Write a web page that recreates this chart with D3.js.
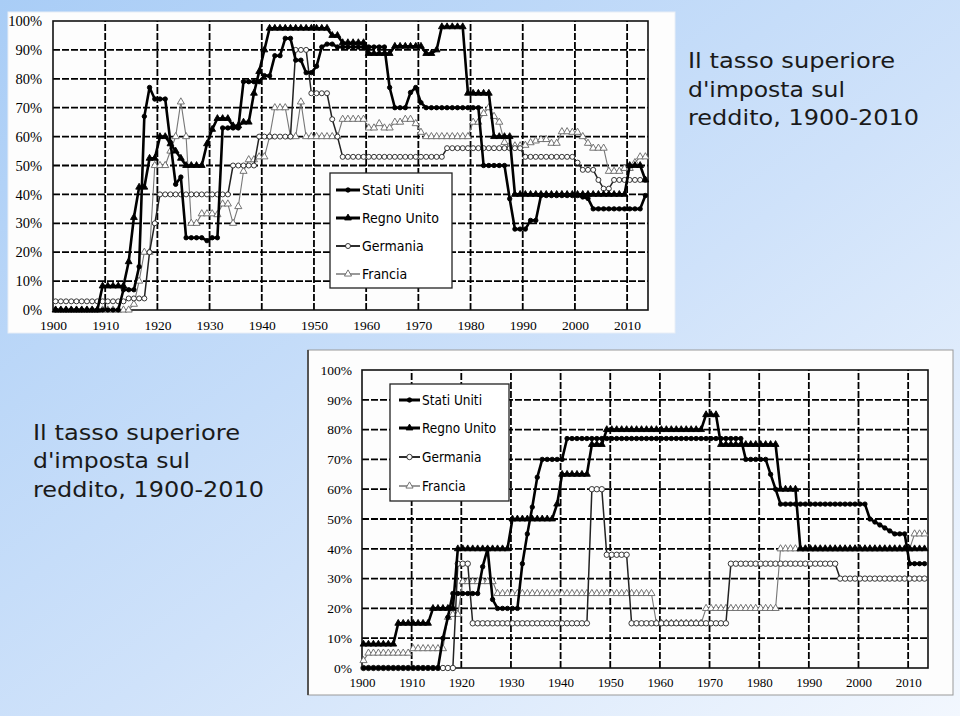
<!DOCTYPE html>
<html><head><meta charset="utf-8">
<script src="https://cdn.jsdelivr.net/npm/d3@7"></script>
<style>html,body{margin:0;padding:0;overflow:hidden;background:#fff}svg{display:block}</style>
</head><body>
<svg id="s" width="960" height="716"></svg>
<script>
// ---------- DATA ----------
const firstYear = 1900, lastYear = 2013;
const xTickYears = [1900,1910,1920,1930,1940,1950,1960,1970,1980,1990,2000,2010];
const yTickValues = [0,10,20,30,40,50,60,70,80,90,100];
const seriesNames = ["Stati Uniti","Regno Unito","Germania","Francia"];
const titleLines = ["Il tasso superiore","d'imposta sul","reddito, 1900-2010"];

// Chart 1 (top-left), yearly values 1900-2013
const usTop = [0,0,0,0,0,0,0,0,0,0, 0,0,0,7,7,7,15,67,77,73,
 73,73,58,43.5,46,25,25,25,25,24, 25,25,63,63,63,63,79,79,79,79,
 81.1,81,88,88,94,94,86.45,86.45,82.13,82.13, 84.36,91,92,92,91,91,91,91,91,91,
 91,91,91,91,77,70,70,70,75.25,77, 71.75,70,70,70,70,70,70,70,70,70,
 70,70,50,50,50,50,50,38.5,28,28, 28,31,31,39.6,39.6,39.6,39.6,39.6,39.6,39.6,
 39.6,39.1,38.6,35,35,35,35,35,35,35, 35,35,35,39.6];
const ukTop = [0,0,0,0,0,0,0,0,0,8.3, 8.3,8.3,8.3,8.3,16.7,32,42.5,42.5,52.5,52.5,
 60,60,57.5,55,52.5,50,50,50,50,57.5, 62.5,66.25,66.25,66.25,63.75,63.75,65,65,75,82.5,
 90,97.5,97.5,97.5,97.5,97.5,97.5,97.5,97.5,97.5, 97.5,97.5,97.5,95,95,92.5,92.5,92.5,92.5,92.5,
 88.75,88.75,88.75,88.75,88.75,91.25,91.25,91.25,91.25,91.25, 91.25,88.75,88.75,90,98,98,98,98,98,75,
 75,75,75,75,60,60,60,60,40,40, 40,40,40,40,40,40,40,40,40,40,
 40,40,40,40,40,40,40,40,40,40, 50,50,50,45];
const deTop = [3,3,3,3,3,3,3,3,3,3, 3,3,3,3,4,4,4,4,20,30,
 40,40,40,40,40,40,40,40,40,40, 40,40,40,40,50,50,50,50,50,60,
 60,60,60,60,60,60,90,90,90,75, 75,75,75,66,60,53,53,53,53,53,
 53,53,53,53,53,53,53,53,53,53, 53,53,53,53,53,56,56,56,56,56,
 56,56,56,56,56,56,56,56,56,56, 53,53,53,53,53,53,53,53,53,53,
 51,48.5,48.5,48.5,45,42,42,45,45,45, 45,45,45,45];
const frTop = [0,0,0,0,0,0,0,0,0,0, 0,0,0,0,0,2,10,20,20,50,
 50,50,55,60,72,60,30,30,33.3,33.3, 33.3,33,36.7,36.7,30,35.8,48,52,52,53,
 53,60,70,70,70,60,60,72,60,60, 60,60,60,60,60,66,66,66,66,66,
 63,63,64.5,63,63,65,65,66,66,64.5, 61.5,60,60,60,60,60,60,60,60,60,
 65,65,68,70,67,65,58,56.8,56.8,56.8, 57,57.9,58.5,59,59,57.7,57.7,61.7,61.7,61.5,
 61.5,60,57.7,56,56,56,48,48,48,49, 49,51,53,53];

// Chart 2 (bottom-right), yearly values 1900-2013
const usLow = [0,0,0,0,0,0,0,0,0,0, 0,0,0,0,0,0,10,17,25,25,
 25,25,25,25,34,40,23,20,20,20, 20,20,35,45,54,64,70,70,70,70,
 70,77,77,77,77,77,77,77,77,77, 77,77,77,77,77,77,77,77,77,77,
 77,77,77,77,77,77,77,77,77,77, 77,77,77,77,77,77,77,70,70,70,
 70,70,65,60,55,55,55,55,55,55, 55,55,55,55,55,55,55,55,55,55,
 55,55,50,49,48,47,46,45,45,45, 35,35,35,35];
const ukLow = [8,8,8,8,8,8,8,15,15,15, 15,15,15,15,20,20,20,20,20,40,
 40,40,40,40,40,40,40,40,40,40, 50,50,50,50,50,50,50,50,50,55,
 65,65,65,65,65,65,75,75,75,80, 80,80,80,80,80,80,80,80,80,80,
 80,80,80,80,80,80,80,80,80,85, 85,85,75,75,75,75,75,75,75,75,
 75,75,75,75,60,60,60,60,40,40, 40,40,40,40,40,40,40,40,40,40,
 40,40,40,40,40,40,40,40,40,40, 40,40,40,40];
const deLow = [0,0,0,0,0,0,0,0,0,0, 0,0,0,0,0,0,0,0,0,35,
 35,35,15,15,15,15,15,15,15,15, 15,15,15,15,15,15,15,15,15,15,
 15,15,15,15,15,15,60,60,60,38, 38,38,38,38,15,15,15,15,15,15,
 15,15,15,15,15,15,15,15,15,15, 15,15,15,15,35,35,35,35,35,35,
 35,35,35,35,35,35,35,35,35,35, 35,35,35,35,35,35,30,30,30,30,
 30,30,30,30,30,30,30,30,30,30, 30,30,30,30];
const frLow = [2.5,5,5,5,5,5,5,5,5,5, 6.5,6.5,6.5,6.5,6.5,6.5,6.5,17,18,18,
 29,29,29,29,29,29,29,25,25,25, 25,25,25,25,25,25,25,25,25,25,
 25,25,25,25,25,25,25,25,25,25, 25,25,25,25,25,25,25,25,25,15,
 15,15,15,15,15,15,15,15,15,20, 20,20,20,20,20,20,20,20,20,20,
 20,20,20,20,40,40,40,40,40,40, 40,40,40,40,40,40,40,40,40,40,
 40,40,40,40,40,40,40,40,40,40, 40,45,45,45];

// ---------- DRAW ----------
const svg = d3.select("#s");
const defs = svg.append("defs");
const grad = defs.append("linearGradient").attr("id","bg")
  .attr("x1","0").attr("y1","0").attr("x2","1").attr("y2","1");
grad.append("stop").attr("offset","0").attr("stop-color","#a9cdf6");
grad.append("stop").attr("offset","0.55").attr("stop-color","#cfe2fa");
grad.append("stop").attr("offset","1").attr("stop-color","#f2f7fe");
svg.append("rect").attr("width",960).attr("height",716).attr("fill","url(#bg)");

const years = d3.range(firstYear, lastYear + 1);

function drawChart(c) {
  const x = d3.scaleLinear().domain([1900, 2014]).range([c.x0, c.x1]);
  const y = d3.scaleLinear().domain([0, 100]).range([c.y0, c.y1]);
  const G = svg.append("g");
  G.append("rect").attr("x",c.px).attr("y",c.py).attr("width",c.pw).attr("height",c.ph)
    .attr("fill","#fdfdfd").attr("stroke",c.pstroke).attr("stroke-width",1);
  if (c.leftBorder) G.append("line").attr("x1",c.px).attr("x2",c.px).attr("y1",c.py).attr("y2",c.py+c.ph)
    .attr("stroke","#555").attr("stroke-width",2);

  // grid
  G.append("g").selectAll("line").data(yTickValues.filter(d=>d>0 && d<100)).join("line")
    .attr("x1",c.x0).attr("x2",c.x1).attr("y1",d=>y(d)).attr("y2",d=>y(d))
    .attr("stroke","#000").attr("stroke-width",1.8).attr("stroke-dasharray","7,2");
  G.append("g").selectAll("line").data(xTickYears.filter(d=>d>1900)).join("line")
    .attr("y1",c.y0).attr("y2",c.y1).attr("x1",d=>x(d)).attr("x2",d=>x(d))
    .attr("stroke","#000").attr("stroke-width",1.8).attr("stroke-dasharray","7,2");
  G.append("rect").attr("x",c.x0).attr("y",c.y1).attr("width",c.x1-c.x0).attr("height",c.y0-c.y1)
    .attr("fill","none").attr("stroke","#111").attr("stroke-width",1.6);

  // axes
  const ya = G.append("g").attr("transform",`translate(${c.x0},0)`)
    .call(d3.axisLeft(y).tickValues(yTickValues).tickFormat(d=>d+"%").tickSize(0).tickPadding(c.x0 - c.ylabelRight));
  const xa = G.append("g").attr("transform",`translate(0,${c.y0})`)
    .call(d3.axisBottom(x).tickValues(xTickYears).tickFormat(d3.format("d")).tickSize(0).tickPadding(10));
  [ya, xa].forEach(a => {
    a.select(".domain").remove();
    a.selectAll("text").attr("font-family","'Liberation Serif','Times New Roman',serif")
      .attr("fill","#000").attr("font-size",c.tickFont);
  });
  ya.selectAll("text").attr("font-size",c.yTickFont);

  // legend
  const L = G.append("g");
  L.append("rect").attr("x",c.lg.x).attr("y",c.lg.y).attr("width",c.lg.w).attr("height",c.lg.h)
    .attr("fill","#fff").attr("stroke","#222").attr("stroke-width",1.3);

  const styles = [
    {name:seriesNames[0], data:c.data[0], stroke:"#000", sw:c.thick, shape:"circle", fill:"#000", mstroke:"#000", size:c.rs},
    {name:seriesNames[1], data:c.data[1], stroke:"#000", sw:c.thick, shape:"tri", fill:"#000", mstroke:"#000", size:c.ts},
    {name:seriesNames[2], data:c.data[2], stroke:"#222", sw:1.5, shape:"circle", fill:"#fff", mstroke:"#222", size:c.ro},
    {name:seriesNames[3], data:c.data[3], stroke:"#777", sw:1.1, shape:"tri", fill:"#fff", mstroke:"#666", size:c.to}
  ];
  const tri = d3.symbol().type(d3.symbolTriangle);
  function addMarker(sel, s, cx, cy) {
    if (s.shape === "circle") {
      sel.append("circle").attr("cx",cx).attr("cy",cy).attr("r",s.size)
        .attr("fill",s.fill).attr("stroke",s.mstroke).attr("stroke-width",0.9);
    } else {
      sel.append("path").attr("d",tri.size(s.size)()).attr("transform",`translate(${cx},${cy})`)
        .attr("fill",s.fill).attr("stroke",s.mstroke).attr("stroke-width",0.9);
    }
  }
  const line = d3.line().x((d,i)=>x(years[i]+c.off)).y(d=>y(d));
  [3,2,1,0].forEach(k => {
    const s = styles[k];
    const sg = G.append("g");
    sg.append("path").attr("d",line(s.data)).attr("fill","none").attr("stroke",s.stroke)
      .attr("stroke-width",s.sw).attr("stroke-linejoin","round");
    if (s.shape === "circle") {
      sg.selectAll("circle").data(s.data).join("circle")
        .attr("cx",(d,i)=>x(years[i]+c.off)).attr("cy",d=>y(d)).attr("r",s.size)
        .attr("fill",s.fill).attr("stroke",s.mstroke).attr("stroke-width",0.9);
    } else {
      sg.selectAll("path.m").data(s.data).join("path").attr("class","m")
        .attr("d",tri.size(s.size)())
        .attr("transform",(d,i)=>`translate(${x(years[i]+c.off)},${y(d)})`)
        .attr("fill",s.fill).attr("stroke",s.mstroke).attr("stroke-width",0.9);
    }
  });

  styles.forEach((s,i) => {
    const ly = c.lg.rows[i];
    L.append("line").attr("x1",c.lg.sx).attr("x2",c.lg.sx+c.lg.sw).attr("y1",ly).attr("y2",ly)
      .attr("stroke",s.stroke).attr("stroke-width",i<2?c.thick+0.4:s.sw+0.4);
    addMarker(L, s, c.lg.sx + c.lg.sw/2, ly);
    L.append("text").attr("x",c.lg.sx+c.lg.sw+2).attr("y",ly).attr("dy","0.36em")
      .attr("font-family","'DejaVu Sans Condensed','DejaVu Sans',sans-serif")
      .attr("font-size",c.lg.font).attr("fill","#000").text(s.name);
  });
}

drawChart({
  px:8, py:12, pw:667, ph:321, pstroke:"#e8eef6", leftBorder:false,
  x0:53, x1:648, y0:310, y1:21, ylabelRight:42, tickFont:"13.5px", yTickFont:"14.5px", off:0.5,
  thick:2.6, rs:2.2, ts:20, ro:2.5, to:22,
  data:[usTop, ukTop, deTop, frTop],
  lg:{x:330, y:173, w:122, h:115, rows:[190,218,246,274], sx:336, sw:24, font:"14px"}
});

drawChart({
  px:308, py:350, pw:645, ph:345, pstroke:"#999", leftBorder:true,
  x0:362, x1:928, y0:668, y1:370, ylabelRight:352, tickFont:"13px", yTickFont:"13.5px", off:0.3,
  thick:2.6, rs:2.2, ts:20, ro:2.7, to:22,
  data:[usLow, ukLow, deLow, frLow],
  lg:{x:390, y:384, w:119, h:117, rows:[400,428,457,486], sx:399, sw:21, font:"13.5px"}
});

// titles
const tf = "'DejaVu Sans',Verdana,sans-serif";
const widths = [207,157,231];
[[688,[68,97,125]],[33,[440,468,497]]].forEach(([tx,ys]) => {
  titleLines.forEach((t,i) => {
    svg.append("text").attr("x",tx).attr("y",ys[i]).attr("font-family",tf).attr("font-size","21px")
      .attr("fill","#1a1a1a").attr("textLength",widths[i]).attr("lengthAdjust","spacingAndGlyphs").text(t);
  });
});
</script>
</body></html>
